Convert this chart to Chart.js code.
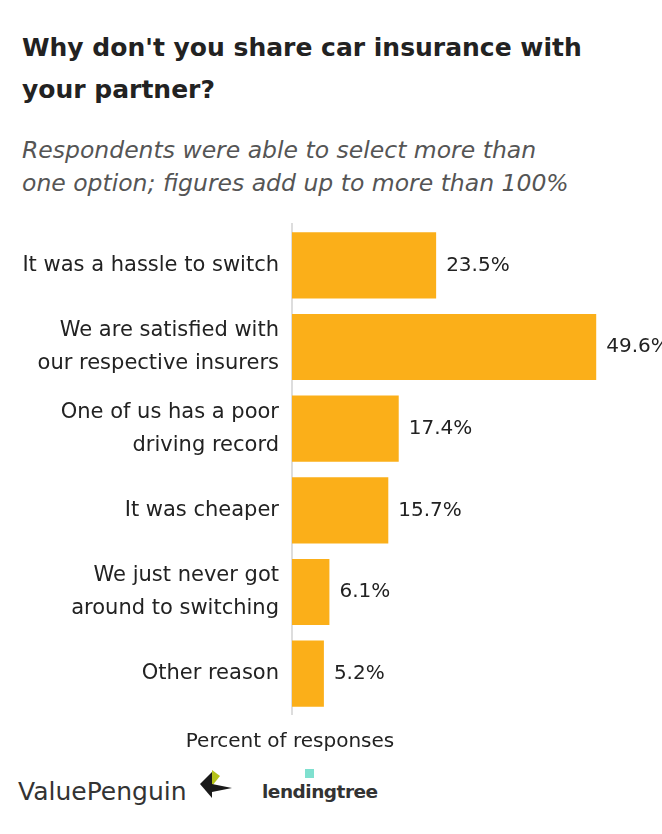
<!DOCTYPE html>
<html>
<head>
<meta charset="utf-8">
<script src="https://cdn.jsdelivr.net/npm/chart.js@4"></script>
<style>
  body { margin: 0; width: 662px; height: 834px; background: #fff; position: relative; overflow: hidden; font-family: "DejaVu Sans", sans-serif; }
  #title { position: absolute; left: 22px; top: 27px; font-size: 25px; font-weight: bold; color: #222; line-height: 42px; }
  #subtitle { position: absolute; left: 22px; top: 134px; font-size: 23.5px; font-style: italic; color: #555; line-height: 33px; }
  #chart-box { position: absolute; left: 0; top: 203px; width: 662px; height: 533px; }
  #axis-title { position: absolute; left: 0; width: 580px; text-align: center; top: 728px; font-size: 20px; color: #222; }
  #vp { position: absolute; left: 18px; top: 777px; font-size: 25px; color: #333; }
  #penguin { position: absolute; left: 196px; top: 764px; }
  #lt { position: absolute; left: 262px; top: 781px; font-size: 18.5px; font-weight: bold; color: #333; letter-spacing: -0.5px; }
  #leaf { position: absolute; left: 305px; top: 769px; width: 9px; height: 9px; background: #7fe0cf; }
</style>
</head>
<body>
<div id="title">Why don't you share car insurance with<br>your partner?</div>
<div id="subtitle">Respondents were able to select more than<br>one option; figures add up to more than 100%</div>
<div id="chart-box"><canvas id="chart"></canvas></div>
<div id="axis-title">Percent of responses</div>
<div id="vp">ValuePenguin</div>
<svg id="penguin" width="40" height="40" viewBox="0 0 40 40">
  <polygon points="4,20 16,8 16,34" fill="#1a1a1a"/>
  <polygon points="16,6 24,12 16,22" fill="#b5c21a"/>
  <polygon points="16,20 36,24 16,28" fill="#1a1a1a"/>
</svg>
<div id="leaf"></div>
<div id="lt">lendingtree</div>
<script>
const categories = [
  ["It was a hassle to switch"],
  ["We are satisfied with", "our respective insurers"],
  ["One of us has a poor", "driving record"],
  ["It was cheaper"],
  ["We just never got", "around to switching"],
  ["Other reason"]
];
const shares = [23.5, 49.6, 17.4, 15.7, 6.1, 5.2];

const valueLabels = {
  id: "valueLabels",
  afterDatasetsDraw(chart) {
    const ctx = chart.ctx;
    ctx.save();
    ctx.font = "20px 'DejaVu Sans', sans-serif";
    ctx.fillStyle = "#222";
    ctx.textBaseline = "middle";
    chart.getDatasetMeta(0).data.forEach((bar, i) => {
      ctx.fillText(shares[i].toFixed(1) + "%", bar.x + 10, bar.y);
    });
    ctx.restore();
  }
};

new Chart(document.getElementById("chart"), {
  type: "bar",
  data: {
    labels: categories,
    datasets: [{
      data: shares,
      backgroundColor: "#FBAF19",
      borderWidth: 0,
      barPercentage: 0.81,
      categoryPercentage: 1.0
    }]
  },
  options: {
    indexAxis: "y",
    responsive: true,
    maintainAspectRatio: false,
    animation: false,
    layout: { padding: { top: 0, right: 2, bottom: 0, left: 0 } },
    plugins: { legend: { display: false }, tooltip: { enabled: false } },
    scales: {
      x: { display: false, min: 0, max: 60 },
      y: {
        grid: { display: false },
        border: { display: true, color: "#ddd", width: 2 },
        ticks: { color: "#222", font: { family: "'DejaVu Sans', sans-serif", size: 21, lineHeight: 1.57 }, padding: 5 },
        afterFit(scale) { scale.width = 292; }
      }
    }
  },
  plugins: [valueLabels]
});
</script>
</body>
</html>
